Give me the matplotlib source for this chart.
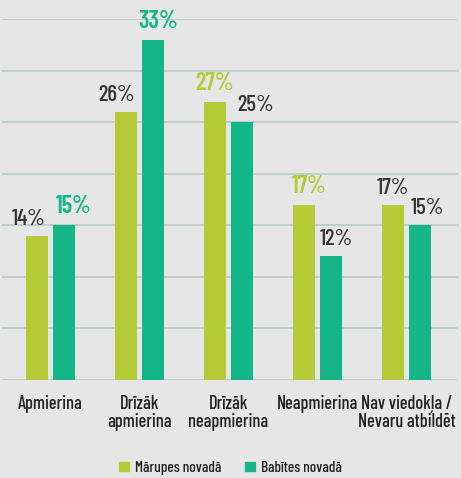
import matplotlib
matplotlib.use("Agg")
import matplotlib.pyplot as plt
import numpy as np
from matplotlib.patches import Patch

categories = ["Apmierina", "Drīzāk\napmierina", "Drīzāk\nneapmierina", "Neapmierina", "Nav viedokļa /\nNevaru atbildēt"]
marupe = [14, 26, 27, 17, 17]
babite = [15, 33, 25, 12, 15]
series_names = ["Mārupes novadā", "Babītes novadā"]
yticks = [0, 5, 10, 15, 20, 25, 30, 35]

lime = "#b4ca36"
teal = "#14b587"
bg = "#e6e6e6"
grid = "#b9ccca"
dark = "#333333"

plt.rcParams['font.family'] = ['Barlow Condensed', 'DejaVu Sans']

fig = plt.figure(figsize=(4.61, 4.78), dpi=100, facecolor=bg)
ax = fig.add_axes([2/461, 98/478, 457/461, 361/478], facecolor=bg)

x = np.arange(len(categories))
w = 0.247
off = 0.152
ax.bar(x - off, marupe, w, color=lime, zorder=3)
ax.bar(x + off, babite, w, color=teal, zorder=3)

ax.set_ylim(0, 35)
ax.set_xlim(-0.545, 4.59)
ax.set_yticks(yticks)
for t in yticks:
    ax.axhline(t, color=grid, lw=1.3, zorder=1)
for s in ax.spines.values():
    s.set_visible(False)
ax.tick_params(left=False, labelleft=False, bottom=False, labelbottom=False)

lime_dx = [-6, -7, 0, 4, 0]
teal_dx = [7, 4, 10, 4, 5]
highlight_m = [False, False, True, True, False]
highlight_b = [True, True, False, False, False]
for i in range(len(categories)):
    for vals, j, dx, col, hl in ((marupe, -1, lime_dx[i], lime, highlight_m[i]),
                                 (babite, 1, teal_dx[i], teal, highlight_b[i])):
        v = vals[i]
        ax.annotate(f"{v}%", (x[i] + j * off, v), xytext=(dx, 5), textcoords="offset points",
                    ha="center", va="bottom", fontsize=17.5 if hl else 16.5,
                    fontweight="semibold" if hl else "medium",
                    color=col if hl else dark, annotation_clip=False)

for i, c in enumerate(categories):
    ax.annotate(c, (x[i], 0), xytext=(0, -11), textcoords="offset points",
                ha="center", va="top", fontsize=13.2, color="#222222",
                fontweight="medium", linespacing=1.0, annotation_clip=False)

handles = [Patch(color=lime), Patch(color=teal)]
fig.legend(handles, series_names, loc="center", bbox_to_anchor=(0.5, 10/478), ncol=2,
           frameon=False, prop={"family": ['Barlow Condensed', 'DejaVu Sans'], "size": 11, "weight": "medium"},
           handlelength=0.6, handleheight=0.6,
           handletextpad=0.4, columnspacing=1.6, labelcolor="#222222")

fig.savefig("out.png", dpi=100, facecolor=bg)
